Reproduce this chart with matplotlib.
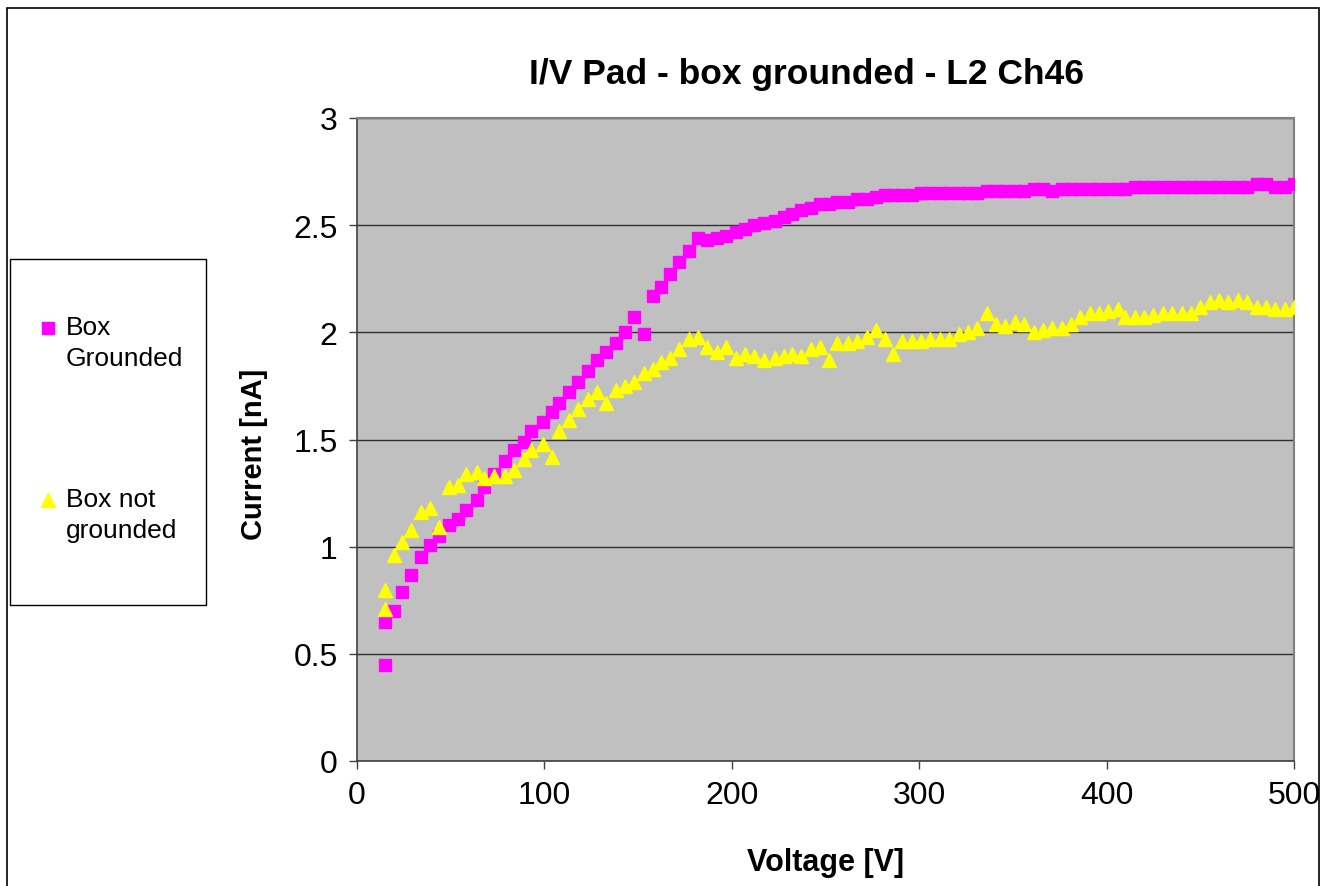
import matplotlib
matplotlib.use("Agg")
import matplotlib.pyplot as plt
from matplotlib.lines import Line2D
from matplotlib.patches import Rectangle

plt.rcParams["font.family"] = ["Liberation Sans", "DejaVu Sans"]

# ------------------------------------------------------------
# data
# ------------------------------------------------------------
voltage = [
    15, 15, 20, 24, 29, 34, 39, 44, 49, 54,
    58, 64, 68, 73, 79, 84, 89, 93, 99, 104,
    108, 113, 118, 123, 128, 133, 138, 143, 148, 153,
    158, 162, 167, 172, 177, 182, 187, 192, 197, 202,
    207, 212, 217, 223, 228, 232, 237, 242, 247, 252,
    256, 262, 267, 272, 277, 282, 286, 291, 296, 301,
    306, 311, 316, 321, 326, 331, 336, 341, 346, 351,
    356, 361, 366, 371, 376, 381, 386, 391, 396, 401,
    406, 410, 415, 420, 425, 430, 435, 440, 445, 450,
    455, 460, 465, 470, 475, 480, 485, 490, 495, 500,
]

current_grounded = [
    0.45, 0.65, 0.70, 0.79, 0.87, 0.95, 1.01, 1.05, 1.10, 1.13,
    1.17, 1.22, 1.28, 1.34, 1.40, 1.45, 1.49, 1.54, 1.58, 1.63,
    1.67, 1.72, 1.77, 1.82, 1.87, 1.91, 1.95, 2.00, 2.07, 1.99,
    2.17, 2.21, 2.27, 2.33, 2.38, 2.44, 2.43, 2.44, 2.45, 2.47,
    2.48, 2.50, 2.51, 2.52, 2.54, 2.55, 2.57, 2.58, 2.60, 2.60,
    2.61, 2.61, 2.62, 2.62, 2.63, 2.64, 2.64, 2.64, 2.64, 2.65,
    2.65, 2.65, 2.65, 2.65, 2.65, 2.65, 2.66, 2.66, 2.66, 2.66,
    2.66, 2.67, 2.67, 2.66, 2.67, 2.67, 2.67, 2.67, 2.67, 2.67,
    2.67, 2.67, 2.68, 2.68, 2.68, 2.68, 2.68, 2.68, 2.68, 2.68,
    2.68, 2.68, 2.68, 2.68, 2.68, 2.69, 2.69, 2.68, 2.68, 2.69,
]

current_not_grounded = [
    0.71, 0.80, 0.96, 1.02, 1.08, 1.16, 1.18, 1.09, 1.28, 1.29,
    1.34, 1.35, 1.32, 1.33, 1.33, 1.36, 1.41, 1.45, 1.48, 1.42,
    1.54, 1.59, 1.64, 1.69, 1.72, 1.67, 1.73, 1.75, 1.77, 1.81,
    1.83, 1.86, 1.88, 1.92, 1.97, 1.98, 1.93, 1.91, 1.93, 1.88,
    1.90, 1.89, 1.87, 1.88, 1.89, 1.90, 1.89, 1.92, 1.93, 1.87,
    1.95, 1.95, 1.96, 1.98, 2.01, 1.97, 1.90, 1.96, 1.96, 1.96,
    1.97, 1.97, 1.97, 1.99, 2.00, 2.02, 2.09, 2.04, 2.03, 2.05,
    2.04, 2.00, 2.01, 2.02, 2.02, 2.04, 2.07, 2.09, 2.09, 2.10,
    2.11, 2.07, 2.07, 2.07, 2.08, 2.09, 2.09, 2.09, 2.09, 2.12,
    2.14, 2.15, 2.14, 2.15, 2.14, 2.12, 2.12, 2.11, 2.11, 2.12,
]

series_labels = ["Box\nGrounded", "Box not\ngrounded"]
title = "I/V Pad - box grounded - L2 Ch46"
x_ticks = [0, 100, 200, 300, 400, 500]
y_ticks = [0, 0.5, 1, 1.5, 2, 2.5, 3]
y_tick_labels = ["0", "0.5", "1", "1.5", "2", "2.5", "3"]

MAGENTA = "#FF00FF"
YELLOW = "#FFFF00"
PLOT_BG = "#C0C0C0"

W, H = 1322, 887
DPI = 100

fig = plt.figure(figsize=(W / DPI, H / DPI), dpi=DPI)
fig.patch.set_facecolor("white")

# chart area border
fig.add_artist(Rectangle((7 / W, -0.05), (1319 - 7) / W, 1 - 9 / H + 0.05,
                         transform=fig.transFigure, fill=False,
                         edgecolor="black", linewidth=1.2))

ax = fig.add_axes([357 / W, 1 - 762 / H, (1294 - 357) / W, (762 - 119) / H])
ax.set_facecolor(PLOT_BG)

ax.plot(voltage, current_grounded, ls="none", marker="s", markersize=9,
        color=MAGENTA, markeredgecolor=MAGENTA, zorder=3)
ax.plot(voltage, current_not_grounded, ls="none", marker="^", markersize=10.5,
        color=YELLOW, markeredgecolor=YELLOW, zorder=3)

ax.set_xlim(0, 500)
ax.set_ylim(0, 3)
ax.set_xticks(x_ticks)
ax.set_yticks(y_ticks)
ax.set_yticklabels(y_tick_labels)
ax.tick_params(labelsize=23, length=6, width=1, direction="out", pad=8,
               color="#404040")
ax.yaxis.grid(True, color="#303030", linewidth=1)
ax.set_axisbelow(True)

for side in ["left", "bottom"]:
    ax.spines[side].set_color("#404040")
    ax.spines[side].set_linewidth(1.2)
for side in ["top", "right"]:
    ax.spines[side].set_color("#808080")
    ax.spines[side].set_linewidth(1.5)

ax.set_title(title, fontsize=25.5, fontweight="bold", pad=25, x=0.48)
ax.set_xlabel("Voltage [V]", fontsize=22, fontweight="bold", labelpad=26)
ax.set_ylabel("Current [nA]", fontsize=21, fontweight="bold")
ax.yaxis.set_label_coords(-0.095, 0.478)

# legend box, drawn by hand so the key sits on the first text line
fig.add_artist(Rectangle((10 / W, 1 - 606 / H), 196 / W, 346 / H,
                         transform=fig.transFigure, facecolor="white",
                         edgecolor="black", linewidth=1))
legend_keys = [("s", MAGENTA, 9, 329), ("^", YELLOW, 10.5, 501)]
for (mk, col, ms, ypx), label in zip(legend_keys, series_labels):
    fig.add_artist(Line2D([48 / W], [1 - ypx / H], transform=fig.transFigure,
                          marker=mk, markersize=ms, color=col, ls="none"))
    fig.text(66 / W, 1 - (ypx - 13) / H, label, fontsize=19, va="top",
             ha="left", linespacing=1.38)

fig.savefig("out.png", dpi=DPI)
